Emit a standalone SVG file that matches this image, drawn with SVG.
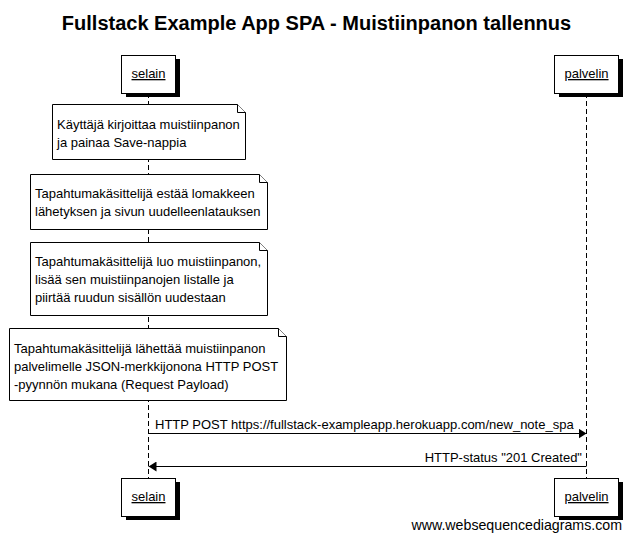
<svg xmlns="http://www.w3.org/2000/svg" width="633" height="541" viewBox="0 0 633 541">
<defs>
<style>
text{font-family:"Liberation Sans",Arial,sans-serif;fill:#000}
.t{font-size:13px}
.title{font-size:20px;font-weight:bold}
.u{text-decoration:underline}
.box{fill:#fff;stroke:#000;stroke-width:1}
.sh{fill:#000}
.note{fill:#fff;stroke:#000;stroke-width:1}
.life{stroke:#000;stroke-width:1;stroke-dasharray:5,3;fill:none}
.msg{stroke:#000;stroke-width:1;fill:none}
</style>
<marker id="ah" viewBox="0 0 8 10" refX="8" refY="5" markerWidth="8" markerHeight="10" markerUnits="userSpaceOnUse" orient="auto">
<path d="M0,0 L8,5 L0,10 Z" fill="#000"/>
</marker>
</defs>
<rect width="633" height="541" fill="#fff"/>
<text class="title" x="316.5" y="30" text-anchor="middle">Fullstack Example App SPA - Muistiinpanon tallennus</text>

<g id="lifelines">
<line class="life" x1="148.5" y1="93" x2="148.5" y2="478"/>
<line class="life" x1="586.5" y1="93" x2="586.5" y2="478"/>
</g>

<g id="selain-top">
<rect class="sh" x="126" y="59" width="54" height="38"/>
<rect class="box" x="121.5" y="55.5" width="54" height="38"/>
<text class="t u" x="148.5" y="78" text-anchor="middle">selain</text>
</g>
<g id="palvelin-top">
<rect class="sh" x="559" y="59" width="64" height="38"/>
<rect class="box" x="554.5" y="55.5" width="64" height="38"/>
<text class="t u" x="586.5" y="78" text-anchor="middle">palvelin</text>
</g>

<g id="note1">
<path class="note" d="M52.5,104.5 H237.5 L245.5,112.5 V159.5 H52.5 Z"/>
<path class="note" d="M237.5,104.5 V112.5 H245.5"/>
<text class="t" x="57" y="129">Käyttäjä kirjoittaa muistiinpanon</text>
<text class="t" x="57" y="147">ja painaa Save-nappia</text>
</g>
<g id="note2">
<path class="note" d="M30.5,174.5 H259.5 L267.5,182.5 V229.5 H30.5 Z"/>
<path class="note" d="M259.5,174.5 V182.5 H267.5"/>
<text class="t" x="35" y="198">Tapahtumakäsittelijä estää lomakkeen</text>
<text class="t" x="35" y="216">lähetyksen ja sivun uudelleenlatauksen</text>
</g>
<g id="note3">
<path class="note" d="M30.5,242.5 H259.5 L267.5,250.5 V315.5 H30.5 Z"/>
<path class="note" d="M259.5,242.5 V250.5 H267.5"/>
<text class="t" x="35" y="266">Tapahtumakäsittelijä luo muistiinpanon,</text>
<text class="t" x="35" y="284">lisää sen muistiinpanojen listalle ja</text>
<text class="t" x="35" y="302">piirtää ruudun sisällön uudestaan</text>
</g>
<g id="note4">
<path class="note" d="M9.5,328.5 H278.5 L286.5,336.5 V400.5 H9.5 Z"/>
<path class="note" d="M278.5,328.5 V336.5 H286.5"/>
<text class="t" x="14" y="353">Tapahtumakäsittelijä lähettää muistiinpanon</text>
<text class="t" x="14" y="371">palvelimelle JSON-merkkijonona HTTP POST</text>
<text class="t" x="14" y="389">-pyynnön mukana (Request Payload)</text>
</g>

<g id="connectors">
<line class="msg" x1="148.5" y1="433.5" x2="586.5" y2="433.5" marker-end="url(#ah)"/>
<text class="t" x="155" y="429">HTTP POST https://fullstack-exampleapp.herokuapp.com/new_note_spa</text>
<line class="msg" x1="586.5" y1="466.5" x2="148.5" y2="466.5" marker-end="url(#ah)"/>
<text class="t" x="582" y="462" text-anchor="end">HTTP-status "201 Created"</text>
</g>

<g id="selain-bottom">
<rect class="sh" x="126" y="482" width="54" height="38"/>
<rect class="box" x="121.5" y="478.5" width="54" height="38"/>
<text class="t u" x="148.5" y="501" text-anchor="middle">selain</text>
</g>
<g id="palvelin-bottom">
<rect class="sh" x="559" y="482" width="64" height="38"/>
<rect class="box" x="554.5" y="478.5" width="64" height="38"/>
<text class="t u" x="586.5" y="501" text-anchor="middle">palvelin</text>
</g>

<text x="622" y="530" text-anchor="end" style="font-size:14.2px">www.websequencediagrams.com</text>
</svg>
